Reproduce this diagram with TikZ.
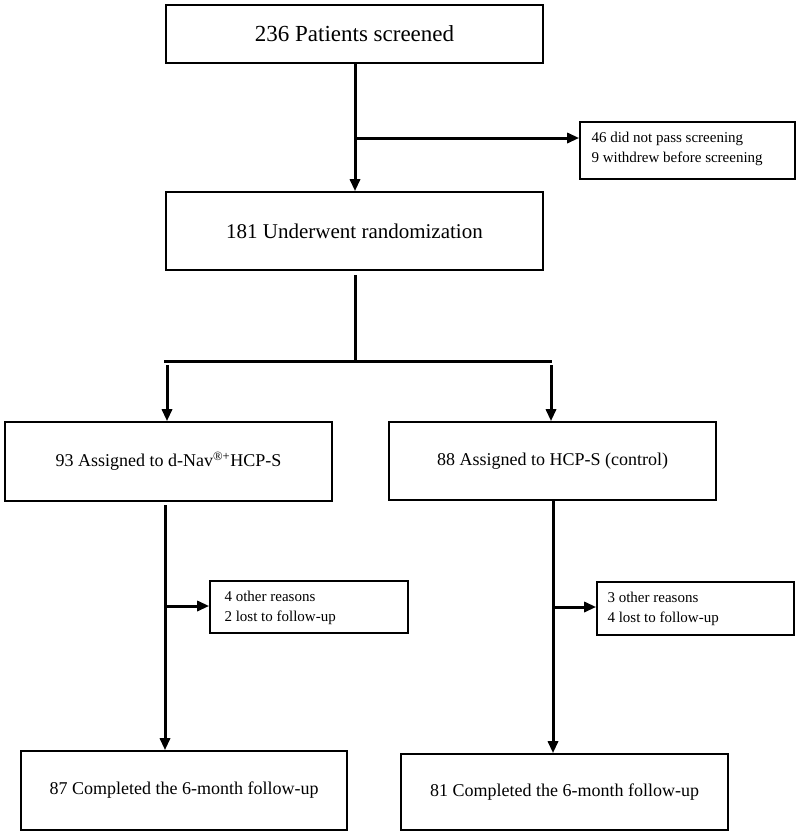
\documentclass[tikz,border=0pt]{standalone}
\usepackage{fontspec}
\setmainfont{Liberation Serif}
\usetikzlibrary{arrows.meta}
\begin{document}
\begin{tikzpicture}[x=1pt,y=-1pt,
  box/.style={draw=black,line width=1.6pt,rectangle,inner sep=0pt,align=center},
  bigtxt/.style={font=\fontsize{23}{27}\selectfont},
  randtxt/.style={font=\fontsize{21}{25}\selectfont},
  midtxt/.style={font=\fontsize{18}{22}\selectfont},
  smalltxt/.style={font=\fontsize{15}{20}\selectfont,align=left},
  conn/.style={line width=3pt},
  arr/.style={line width=3pt,-{Triangle[length=12pt,width=10pt]}}]
\useasboundingbox (0,0) rectangle (800,836);
% boxes
\node[box,bigtxt,minimum width=377pt,minimum height=58pt] (top) at (354.5,34) {236 Patients screened};
\node[box,minimum width=215pt,minimum height=57pt] (side1) at (687.5,150.5) {};
\node[smalltxt,anchor=west] (s1t) at (588,149) {46 did not pass screening\\9 withdrew before screening};
\node[box,randtxt,minimum width=377pt,minimum height=78pt] (rand) at (354.5,231) {181 Underwent randomization};
\node[box,midtxt,minimum width=327pt,minimum height=79pt] (left) at (168.5,461.5) {93 Assigned to d-Nav\textsuperscript{®+}HCP-S};
\node[box,midtxt,minimum width=327pt,minimum height=78pt] (right) at (552.5,461) {88 Assigned to HCP-S (control)};
\node[box,minimum width=198pt,minimum height=52pt] (side2) at (309,607) {};
\node[smalltxt,anchor=west] (s2t) at (221,607.5) {4 other reasons\\2 lost to follow-up};
\node[box,minimum width=197pt,minimum height=53pt] (side3) at (695.5,608.5) {};
\node[smalltxt,anchor=west] (s3t) at (604,608.5) {3 other reasons\\4 lost to follow-up};
\node[box,midtxt,minimum width=326pt,minimum height=79pt] (bot1) at (184,790.5) {87 Completed the 6-month follow-up};
\node[box,midtxt,minimum width=327pt,minimum height=76pt] (bot2) at (564.5,792) {81 Completed the 6-month follow-up};
% connectors
\coordinate (t0) at (355,63);
\coordinate (b1) at (355,138);
\draw[arr] (t0) -- (t0 |- rand.north);
\draw[arr] (b1) -- (b1 -| side1.west);
\coordinate (r0) at (355,275);
\coordinate (hl) at (164,361);
\coordinate (hr) at (552,361);
\draw[conn] (r0) -- (r0 |- hl);
\draw[conn] (hl) -- (hr);
\coordinate (la) at (167,365);
\coordinate (ra) at (551,365);
\draw[arr] (la) -- (la |- left.north);
\draw[arr] (ra) -- (ra |- right.north);
\coordinate (l0) at (165,505);
\coordinate (lb) at (165,606);
\draw[arr] (l0) -- (l0 |- bot1.north);
\draw[arr] (lb) -- (lb -| side2.west);
\coordinate (r1) at (553,500);
\coordinate (rb) at (553,607);
\draw[arr] (r1) -- (r1 |- bot2.north);
\draw[arr] (rb) -- (rb -| side3.west);
\end{tikzpicture}
\end{document}
